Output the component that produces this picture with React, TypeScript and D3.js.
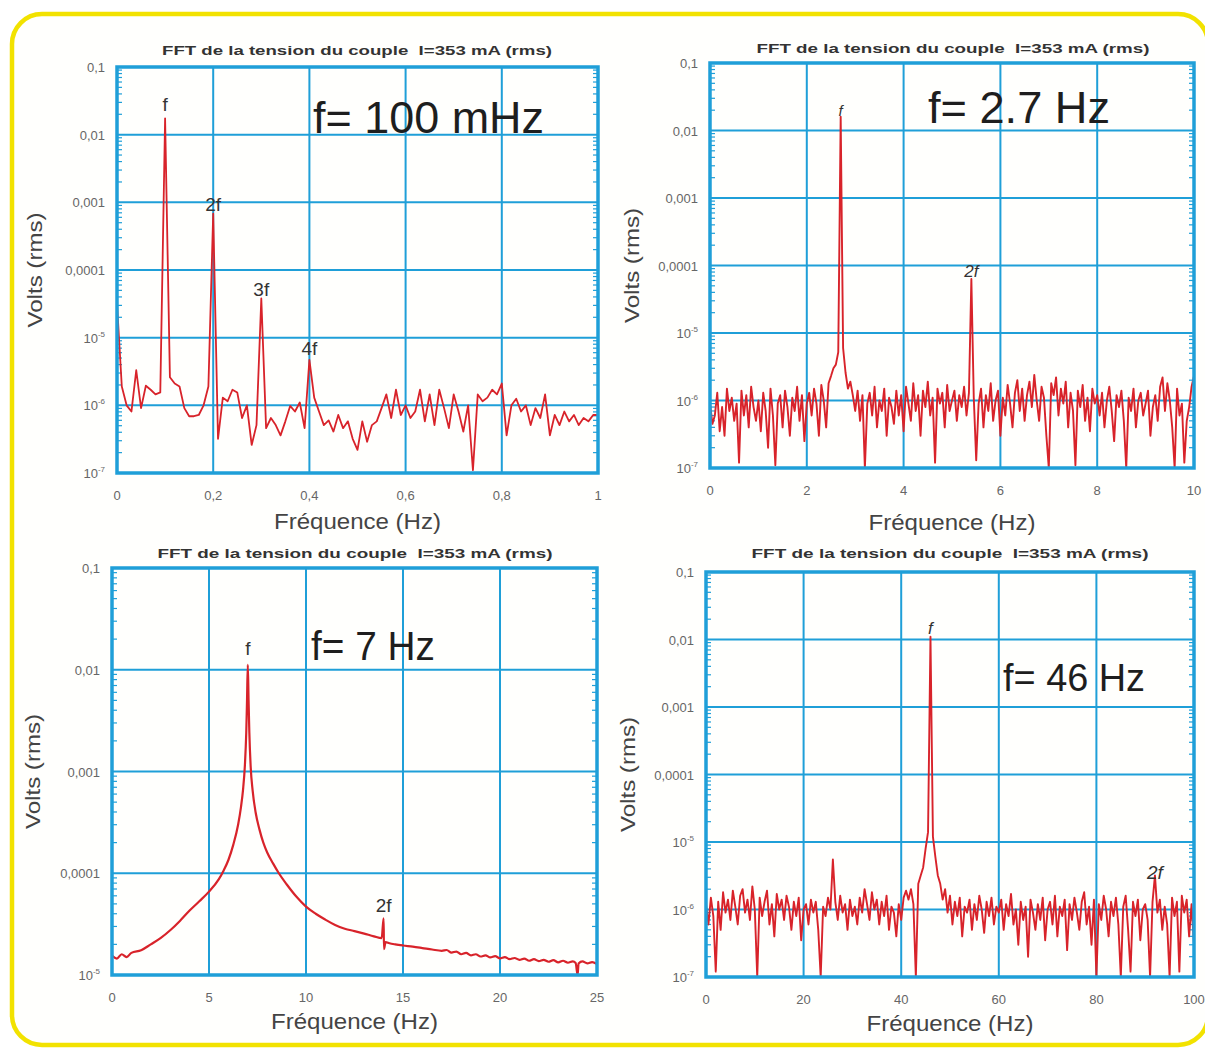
import React from 'react';
import * as d3 from 'd3';

const FONT = '"Liberation Sans", Arial, Helvetica, sans-serif';
const BLUE = '#1f9fd8';
const RED = '#d8232a';
const YELLOW = '#f2e200';

const TITLE = 'FFT de la tension du couple  I=353 mA (rms)';
const X_TITLE = 'Fréquence (Hz)';
const Y_TITLE = 'Volts (rms)';

// ---------- Panel 1 : f = 100 mHz (bins every 0.01 Hz, values in volts)
const p1Step = 0.01;
const p1Volts = [
  3.2e-5, 1.9e-6, 1.0e-6, 8.1e-7, 3.3e-6, 9.1e-7, 1.95e-6, 1.7e-6, 1.45e-6, 1.55e-6,
  1.74e-2, 2.6e-6, 2.1e-6, 1.9e-6, 9.1e-7, 6.9e-7, 6.9e-7, 7.2e-7, 1.0e-6, 1.9e-6,
  6.8e-4, 3.2e-7, 1.3e-6, 1.15e-6, 1.7e-6, 1.55e-6, 6.5e-7, 1.0e-6, 2.6e-7, 5.1e-7,
  3.8e-5, 4.6e-7, 6.5e-7, 5.1e-7, 3.6e-7, 5.8e-7, 9.8e-7, 8.1e-7, 1.1e-6, 4.6e-7,
  4.7e-6, 1.3e-6, 8.1e-7, 5.1e-7, 6.0e-7, 4.1e-7, 7.2e-7, 4.6e-7, 5.8e-7, 3.2e-7,
  2.2e-7, 5.8e-7, 2.9e-7, 5.1e-7, 5.8e-7, 9.1e-7, 1.45e-6, 6.5e-7, 1.7e-6, 7.2e-7,
  1.0e-6, 6.5e-7, 8.1e-7, 1.7e-6, 5.8e-7, 1.45e-6, 5.1e-7, 1.7e-6, 9.1e-7, 4.6e-7,
  1.45e-6, 8.1e-7, 4.1e-7, 1.0e-6, 1.1e-7, 1.45e-6, 1.15e-6, 1.3e-6, 1.7e-6, 1.45e-6,
  2.1e-6, 3.6e-7, 1.0e-6, 1.25e-6, 8.1e-7, 1.0e-6, 5.1e-7, 9.1e-7, 6.5e-7, 1.45e-6,
  3.6e-7, 7.2e-7, 5.1e-7, 8.1e-7, 5.8e-7, 7.2e-7, 5.1e-7, 6.5e-7, 5.8e-7, 7.2e-7,
  7.2e-7,
];
const p1Ticks = [0, 0.2, 0.4, 0.6, 0.8, 1];

// ---------- Panel 2 : f = 2.7 Hz (bins every 0.05 Hz, values in microvolts)
const p2Step = 0.05;
const p2MicroVolts = [
  0.9, 0.45, 0.6, 1.3, 0.35, 0.8, 0.3, 1.5, 0.7, 1.1, 0.5,
  0.9, 0.12, 1.4, 0.6, 1.2, 0.4, 1.6, 0.8, 0.5, 1.0,
  0.35, 1.3, 0.7, 0.2, 1.5, 0.6, 0.11, 0.9, 1.2, 0.4,
  1.4, 0.8, 0.3, 1.1, 0.7, 1.6, 0.5, 1.2, 0.25, 0.9,
  1.3, 0.6, 1.5, 0.9, 0.3, 1.7, 1.0, 0.4, 1.8, 2.3,
  3.0, 3.4, 5.2, 16000, 6.0, 2.6, 1.5, 1.9, 1.2, 0.7,
  1.4, 0.5, 1.2, 0.1, 0.9, 1.3, 0.6, 1.6, 0.4, 1.0,
  0.7, 1.5, 0.3, 1.1, 0.8, 0.45, 1.4, 0.6, 1.2, 0.35,
  1.6, 0.9, 0.5, 1.8, 0.7, 1.2, 0.3, 1.4, 0.8, 1.9,
  0.6, 1.1, 0.12, 1.5, 0.9, 1.3, 0.4, 1.7, 0.7, 1.0,
  1.4, 0.5, 1.2, 0.8, 1.6, 0.6, 1.3, 63, 1.1, 0.13,
  0.9, 1.5, 0.4, 1.2, 0.7, 1.8, 0.5, 1.0, 1.4, 0.3,
  1.1, 0.6, 1.7, 0.9, 0.4, 1.3, 2.0, 0.7, 1.5, 0.5,
  1.2, 1.9, 0.8, 2.4, 1.0, 0.5, 1.6, 1.1, 0.3, 0.1,
  1.8, 1.2, 2.2, 0.6, 1.5, 0.9, 1.9, 0.4, 1.3, 0.7,
  0.11, 1.4, 0.8, 1.7, 0.5, 1.1, 0.35, 1.5, 0.9, 1.2,
  0.6, 1.3, 0.4, 1.0, 1.6, 0.7, 0.25, 1.2, 0.8, 1.4,
  0.5, 0.1, 1.1, 0.7, 1.5, 0.4, 1.0, 1.3, 0.6, 0.9,
  1.4, 0.3, 0.8, 1.2, 0.5, 1.6, 2.2, 0.7, 1.8, 1.0,
  0.4, 0.1, 1.5, 0.6, 0.9, 0.12, 0.5, 0.8, 1.6, 2.3,
];
const p2Ticks = [0, 2, 4, 6, 8, 10];

// ---------- Panel 3 : f = 7 Hz (frequency in Hz, values in volts)
const p3Freq = [
  0, 0.25, 0.5, 0.75, 1, 1.5, 2, 2.5, 3, 3.5,
  4, 4.5, 5, 5.5, 5.75, 6, 6.25, 6.5, 6.65, 6.75,
  6.85, 6.92, 6.96, 7.0, 7.04, 7.08, 7.15, 7.25, 7.4, 7.6,
  7.8, 8, 8.3, 8.6, 9, 9.5, 10, 10.5, 11, 11.5,
  12, 12.5, 13, 13.5, 13.9, 14.0, 14.02, 14.1, 14.3, 14.6,
  15, 15.5, 16, 16.5, 17, 17.25, 17.5, 17.75, 18, 18.25,
  18.5, 18.75, 19, 19.25, 19.5, 19.75, 20, 20.25, 20.5, 20.75,
  21, 21.25, 21.5, 21.75, 22, 22.25, 22.5, 22.75, 23, 23.25,
  23.5, 23.75, 23.9, 24.0, 24.05, 24.25, 24.5, 24.75, 25,
];
const p3Volts = [
  1.55e-5, 1.45e-5, 1.6e-5, 1.5e-5, 1.65e-5, 1.75e-5, 2.0e-5, 2.3e-5, 2.75e-5, 3.4e-5,
  4.3e-5, 5.3e-5, 6.6e-5, 8.7e-5, 1.06e-4, 1.35e-4, 1.9e-4, 3.0e-4, 4.5e-4, 6.5e-4,
  1.15e-3, 2.4e-3, 5e-3, 1.12e-2, 5e-3, 2.4e-3, 1.1e-3, 6.5e-4, 4e-4, 2.7e-4,
  2e-4, 1.6e-4, 1.25e-4, 1.0e-4, 7.8e-5, 5.9e-5, 4.7e-5, 4.0e-5, 3.5e-5, 3.1e-5,
  2.85e-5, 2.7e-5, 2.55e-5, 2.4e-5, 2.3e-5, 3.6e-5, 1.8e-5, 2.1e-5, 2.05e-5, 2.0e-5,
  1.95e-5, 1.9e-5, 1.84e-5, 1.78e-5, 1.73e-5, 1.76e-5, 1.66e-5, 1.7e-5, 1.6e-5, 1.65e-5,
  1.56e-5, 1.6e-5, 1.52e-5, 1.56e-5, 1.49e-5, 1.53e-5, 1.46e-5, 1.5e-5, 1.43e-5, 1.47e-5,
  1.41e-5, 1.45e-5, 1.38e-5, 1.43e-5, 1.37e-5, 1.41e-5, 1.35e-5, 1.4e-5, 1.33e-5, 1.38e-5,
  1.32e-5, 1.36e-5, 1.31e-5, 1.0e-5, 1.3e-5, 1.36e-5, 1.3e-5, 1.34e-5, 1.28e-5,
];
const p3Ticks = [0, 5, 10, 15, 20, 25];

// ---------- Panel 4 : f = 46 Hz (bins every 0.5 Hz, values in microvolts)
const p4Step = 0.5;
const p4MicroVolts = [
  1.2, 0.6, 1.5, 0.8, 0.12, 1.3, 0.5, 1.8, 0.9, 1.4, 0.7,
  1.9, 1.1, 0.6, 1.6, 2.0, 0.9, 1.4, 0.7, 2.2, 1.0,
  0.1, 1.5, 0.8, 1.3, 1.9, 0.6, 1.2, 0.4, 1.7, 1.0,
  1.4, 0.7, 1.6, 1.1, 0.5, 1.3, 0.8, 1.5, 0.35, 1.0,
  1.2, 0.6, 1.4, 0.9, 1.3, 0.5, 0.1, 1.1, 0.8, 1.5,
  1.0, 5.5, 1.3, 0.7, 1.6, 0.9, 1.2, 0.5, 1.4, 0.8,
  1.1, 0.6, 1.5, 0.9, 2.0, 1.2, 0.7, 1.8, 1.0, 1.4,
  0.6, 1.3, 0.8, 1.6, 0.5, 1.1, 0.9, 0.4, 1.2, 0.7,
  1.5, 1.9, 1.4, 2.0, 1.2, 0.1, 2.4, 3.2, 4.2, 8.0,
  14, 11000, 12, 6.0, 3.2, 2.4, 1.4, 2.0, 0.9, 1.6,
  0.6, 1.3, 0.8, 1.5, 0.4, 1.1, 0.9, 1.4, 0.5, 1.2,
  0.7, 1.6, 1.0, 0.45, 1.3, 0.8, 1.5, 0.6, 1.1, 0.9,
  1.4, 0.5, 1.2, 0.8, 1.7, 0.6, 1.0, 0.3, 1.3, 0.7,
  1.1, 0.2, 1.4, 0.9, 0.5, 1.2, 0.7, 1.5, 0.35, 1.0,
  1.3, 0.6, 1.6, 0.4, 1.1, 0.8, 1.4, 0.25, 1.2, 0.7,
  1.5, 0.9, 0.5, 1.3, 1.8, 0.6, 1.1, 0.3, 1.4, 0.1,
  1.2, 0.7, 1.6, 1.0, 0.4, 1.3, 0.8, 1.5, 0.6, 0.1,
  1.1, 1.6, 0.5, 0.12, 1.3, 0.8, 1.4, 0.35, 1.0, 1.2,
  0.7, 0.1, 1.3, 3.2, 0.9, 1.4, 0.5, 1.1, 0.6, 0.1,
  1.5, 0.8, 1.3, 0.12, 1.6, 0.9, 1.4, 0.4, 1.2, 0.3,
];
const p4Ticks = [0, 20, 40, 60, 80, 100];

const MICRO = 1e-6;

type Label = { text: string; f: number; v: number; dy: number; size: number; italic?: boolean };

type PanelProps = {
  id: string;
  left: number; right: number; top: number; bottom: number;
  xMax: number; xTicks: number[]; xFmt: (d: number) => string;
  yMin: number;
  freq: number[]; volts: number[];
  smooth?: boolean;
  labels: Label[];
  note: string; noteX: number; noteY: number; noteSize: number; noteLen: number;
  titleX: number; titleY: number; titleLen: number;
  xTitleY: number; yTitleX: number;
  lineWidth: number;
};

function yTickLabel(v: number) {
  const e = Math.round(Math.log10(v));
  if (e >= -4) return { main: '0,' + '0'.repeat(-e - 1) + '1', sup: '' };
  return { main: '10', sup: String(e) };
}

function Panel(p: PanelProps) {
  const x = d3.scaleLinear().domain([0, p.xMax]).range([p.left, p.right]);
  const y = d3.scaleLog().domain([p.yMin, 0.1]).range([p.bottom, p.top]);
  const decades: number[] = [];
  for (let e = Math.round(Math.log10(p.yMin)); e <= -1; e++) decades.push(Math.pow(10, e));
  const minors: number[] = [];
  for (let e = Math.round(Math.log10(p.yMin)); e < -1; e++)
    for (let k = 2; k <= 9; k++) minors.push(k * Math.pow(10, e));
  const line = d3
    .line<number>()
    .x((_, i) => x(p.freq[i]))
    .y((v) => y(v))
    .curve(p.smooth ? d3.curveMonotoneX : d3.curveLinear);
  const cx = (p.left + p.right) / 2;
  const cy = (p.top + p.bottom) / 2;
  return (
    <g>
      <defs>
        <clipPath id={p.id}>
          <rect x={p.left} y={p.top} width={p.right - p.left} height={p.bottom - p.top} />
        </clipPath>
      </defs>
      {p.xTicks.slice(1, -1).map((t) => (
        <line key={'gx' + t} x1={x(t)} x2={x(t)} y1={p.top} y2={p.bottom} stroke={BLUE} strokeWidth={2} />
      ))}
      {decades.slice(1, -1).map((t) => (
        <line key={'gy' + t} x1={p.left} x2={p.right} y1={y(t)} y2={y(t)} stroke={BLUE} strokeWidth={2} />
      ))}
      {minors.map((t) => (
        <g key={'m' + t}>
          <line x1={p.left} x2={p.left + 5} y1={y(t)} y2={y(t)} stroke={BLUE} strokeWidth={1.2} />
          <line x1={p.right - 5} x2={p.right} y1={y(t)} y2={y(t)} stroke={BLUE} strokeWidth={1.2} />
        </g>
      ))}
      <path
        d={line(p.volts) || ''}
        fill="none"
        stroke={RED}
        strokeWidth={p.lineWidth}
        strokeLinejoin="round"
        clipPath={`url(#${p.id})`}
      />
      <rect
        x={p.left}
        y={p.top}
        width={p.right - p.left}
        height={p.bottom - p.top}
        fill="none"
        stroke={BLUE}
        strokeWidth={3.5}
      />
      {decades.map((t) => {
        const l = yTickLabel(t);
        return (
          <text
            key={'ty' + t}
            x={p.left - 12}
            y={y(t) + 5}
            textAnchor="end"
            fontFamily={FONT}
            fontSize={13}
            fill="#666"
          >
            {l.main}
            {l.sup ? (
              <tspan dy={-6} fontSize={8}>
                {l.sup}
              </tspan>
            ) : null}
          </text>
        );
      })}
      {p.xTicks.map((t) => (
        <text
          key={'tx' + t}
          x={x(t)}
          y={p.bottom + 27}
          textAnchor="middle"
          fontFamily={FONT}
          fontSize={13}
          fill="#666"
        >
          {p.xFmt(t)}
        </text>
      ))}
      <text
        x={p.titleX}
        y={p.titleY}
        textAnchor="middle"
        fontFamily={FONT}
        fontSize={13}
        fontWeight="bold"
        fill="#333"
        textLength={p.titleLen}
        lengthAdjust="spacingAndGlyphs"
        style={{ whiteSpace: 'pre' }}
      >
        {TITLE}
      </text>
      <text
        x={cx}
        y={p.xTitleY}
        textAnchor="middle"
        fontFamily={FONT}
        fontSize={22}
        fill="#444"
        textLength={167}
        lengthAdjust="spacingAndGlyphs"
      >
        {X_TITLE}
      </text>
      <text
        transform={`translate(${p.yTitleX},${cy}) rotate(-90)`}
        textAnchor="middle"
        dominantBaseline="central"
        fontFamily={FONT}
        fontSize={21}
        fill="#444"
        textLength={115}
        lengthAdjust="spacingAndGlyphs"
      >
        {Y_TITLE}
      </text>
      {p.labels.map((l) => (
        <text
          key={l.text}
          x={x(l.f)}
          y={y(l.v) + l.dy}
          textAnchor="middle"
          fontFamily={FONT}
          fontSize={l.size}
          fontStyle={l.italic ? 'italic' : 'normal'}
          fill="#333"
        >
          {l.text}
        </text>
      ))}
      <text
        x={p.noteX}
        y={p.noteY}
        fontFamily={FONT}
        fontSize={p.noteSize}
        fill="#1e1e1e"
        textLength={p.noteLen}
        lengthAdjust="spacingAndGlyphs"
      >
        {p.note}
      </text>
    </g>
  );
}

const comma = (d: number) => String(d).replace('.', ',');

export default function App() {
  const p1Freq = p1Volts.map((_, i) => i * p1Step);
  const p2Freq = p2MicroVolts.map((_, i) => i * p2Step);
  const p2Volts = p2MicroVolts.map((v) => v * MICRO);
  const p4Freq = p4MicroVolts.map((_, i) => i * p4Step);
  const p4Volts = p4MicroVolts.map((v) => v * MICRO);
  return (
    <svg
      width={1205}
      height={1048}
      viewBox="0 0 1205 1048"
      style={{ position: 'absolute', left: 0, top: 0, background: '#fff' }}
    >
      <rect x={0} y={0} width={1205} height={1048} fill="#fff" />
      <rect x={12} y={14} width={1196} height={1031} rx={30} ry={30} fill="#fffffd" stroke={YELLOW} strokeWidth={4.5} />
      <Panel
        id="c1"
        left={117} right={598} top={67} bottom={473}
        xMax={1} xTicks={p1Ticks} xFmt={comma} yMin={1e-7}
        freq={p1Freq} volts={p1Volts}
        labels={[
          { text: 'f', f: 0.1, v: 1.74e-2, dy: -7, size: 19 },
          { text: '2f', f: 0.2, v: 6.8e-4, dy: -3, size: 19 },
          { text: '3f', f: 0.3, v: 3.8e-5, dy: -2, size: 19 },
          { text: '4f', f: 0.4, v: 4.7e-6, dy: -5, size: 19 },
        ]}
        note="f= 100 mHz" noteX={313} noteY={133} noteSize={45} noteLen={231}
        titleX={357} titleY={55} titleLen={390}
        xTitleY={529} yTitleX={34}
        lineWidth={1.8}
      />
      <Panel
        id="c2"
        left={710} right={1194} top={63} bottom={468}
        xMax={10} xTicks={p2Ticks} xFmt={comma} yMin={1e-7}
        freq={p2Freq} volts={p2Volts}
        labels={[
          { text: 'f', f: 2.7, v: 1.6e-2, dy: -1, size: 15, italic: true },
          { text: '2f', f: 5.4, v: 6.3e-5, dy: -2, size: 17, italic: true },
        ]}
        note="f= 2.7 Hz" noteX={928} noteY={123} noteSize={45} noteLen={182}
        titleX={953} titleY={53} titleLen={393}
        xTitleY={530} yTitleX={631}
        lineWidth={1.9}
      />
      <Panel
        id="c3"
        left={112} right={597} top={568} bottom={975}
        xMax={25} xTicks={p3Ticks} xFmt={comma} yMin={1e-5}
        freq={p3Freq} volts={p3Volts}
        smooth
        labels={[
          { text: 'f', f: 7.0, v: 1.12e-2, dy: -10, size: 19 },
          { text: '2f', f: 14.0, v: 3.6e-5, dy: -6, size: 19 },
        ]}
        note="f= 7 Hz" noteX={311} noteY={660} noteSize={40} noteLen={124}
        titleX={355} titleY={558} titleLen={395}
        xTitleY={1029} yTitleX={32}
        lineWidth={2.2}
      />
      <Panel
        id="c4"
        left={706} right={1194} top={572} bottom={977}
        xMax={100} xTicks={p4Ticks} xFmt={comma} yMin={1e-7}
        freq={p4Freq} volts={p4Volts}
        labels={[
          { text: 'f', f: 46, v: 1.1e-2, dy: -3, size: 17, italic: true },
          { text: '2f', f: 92, v: 3.2e-6, dy: 4, size: 19, italic: true },
        ]}
        note="f= 46 Hz" noteX={1003} noteY={691} noteSize={39} noteLen={142}
        titleX={950} titleY={558} titleLen={397}
        xTitleY={1031} yTitleX={627}
        lineWidth={1.9}
      />
    </svg>
  );
}
